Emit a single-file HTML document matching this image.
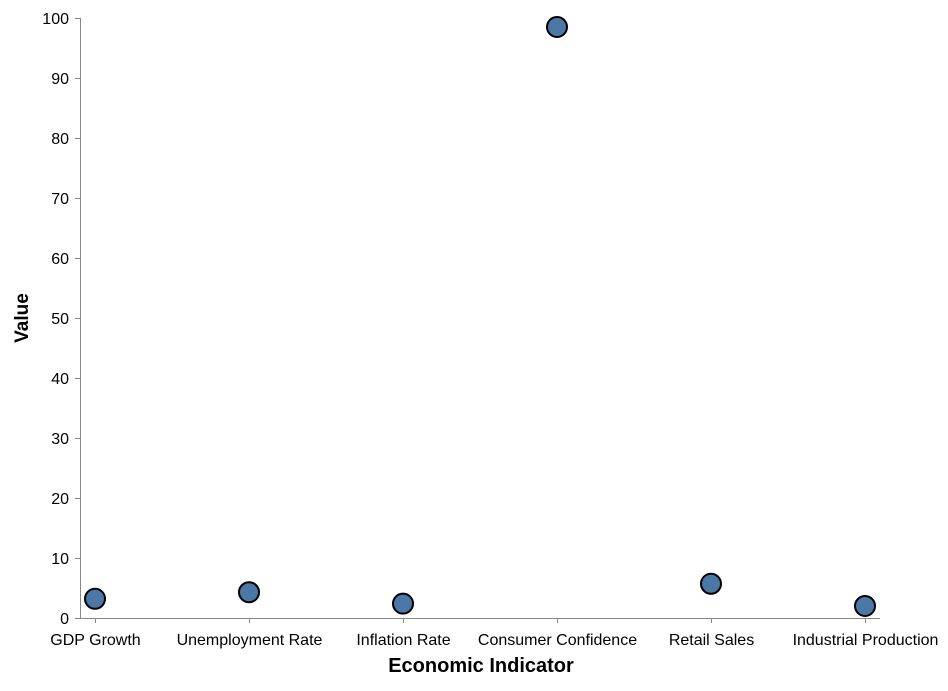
<!DOCTYPE html>
<html><head><meta charset="utf-8"><style>
body{margin:0;background:#fff}
svg text{font-family:"Liberation Sans",Arial,sans-serif;fill:#000}
</style></head><body>
<svg id="chart" width="948" height="686"></svg>
<script>
const categories=["GDP Growth","Unemployment Rate","Inflation Rate","Consumer Confidence","Retail Sales","Industrial Production"];
const values=[3.2,4.3,2.4,98.5,5.7,2.0];
const yTicks=[0,10,20,30,40,50,60,70,80,90,100];
const NS="http://www.w3.org/2000/svg";
const svg=document.getElementById("chart");
const x0=80,x1=880,y0=618,y1=18;
const pad=15,step=(x1-x0-2*pad)/(categories.length-1);
const xs=i=>x0+pad+i*step;
const ys=v=>y0-(v-0)/(100-0)*(y0-y1);
function mk(t,a,p){const e=document.createElementNS(NS,t);for(const k in a)e.setAttribute(k,a[k]);(p||svg).appendChild(e);return e;}
// y axis
const ya=mk("g",{});


mk("line",{x1:x0+0.5,y1:y1,x2:x0+0.5,y2:y0,stroke:"#888"},ya);
yTicks.forEach(t=>{const y=Math.round(ys(t))+0.5;
 mk("line",{x1:x0-5,y1:y,x2:x0,y2:y,stroke:"#888"},ya);
 const tx=mk("text",{x:x0-11,y:y+5.5,"text-anchor":"end","font-size":16},ya);tx.textContent=t;
 
 });
const yt=mk("text",{transform:"translate(28,318) rotate(-90)","text-anchor":"middle","font-size":19,"font-weight":"bold"});
yt.textContent="Value";


// x axis
const xa=mk("g",{});


mk("line",{x1:x0,y1:y0+0.5,x2:x1,y2:y0+0.5,stroke:"#888"},xa);
categories.forEach((c,i)=>{const x=Math.round(xs(i))+0.5;
 mk("line",{x1:x,y1:y0,x2:x,y2:y0+5,stroke:"#888"},xa);
 const tx=mk("text",{x:x,y:y0+27,"text-anchor":"middle","font-size":16},xa);tx.textContent=c;
 
 });
const xt=mk("text",{x:481,y:672,"text-anchor":"middle","font-size":20,"font-weight":"bold"});
xt.textContent="Economic Indicator";


// points
values.forEach((v,i)=>{const c=mk("circle",{cx:xs(i),cy:ys(v),r:10,fill:"#4c78a8",stroke:"#000","stroke-width":2});
 
 });
</script>
</body></html>
